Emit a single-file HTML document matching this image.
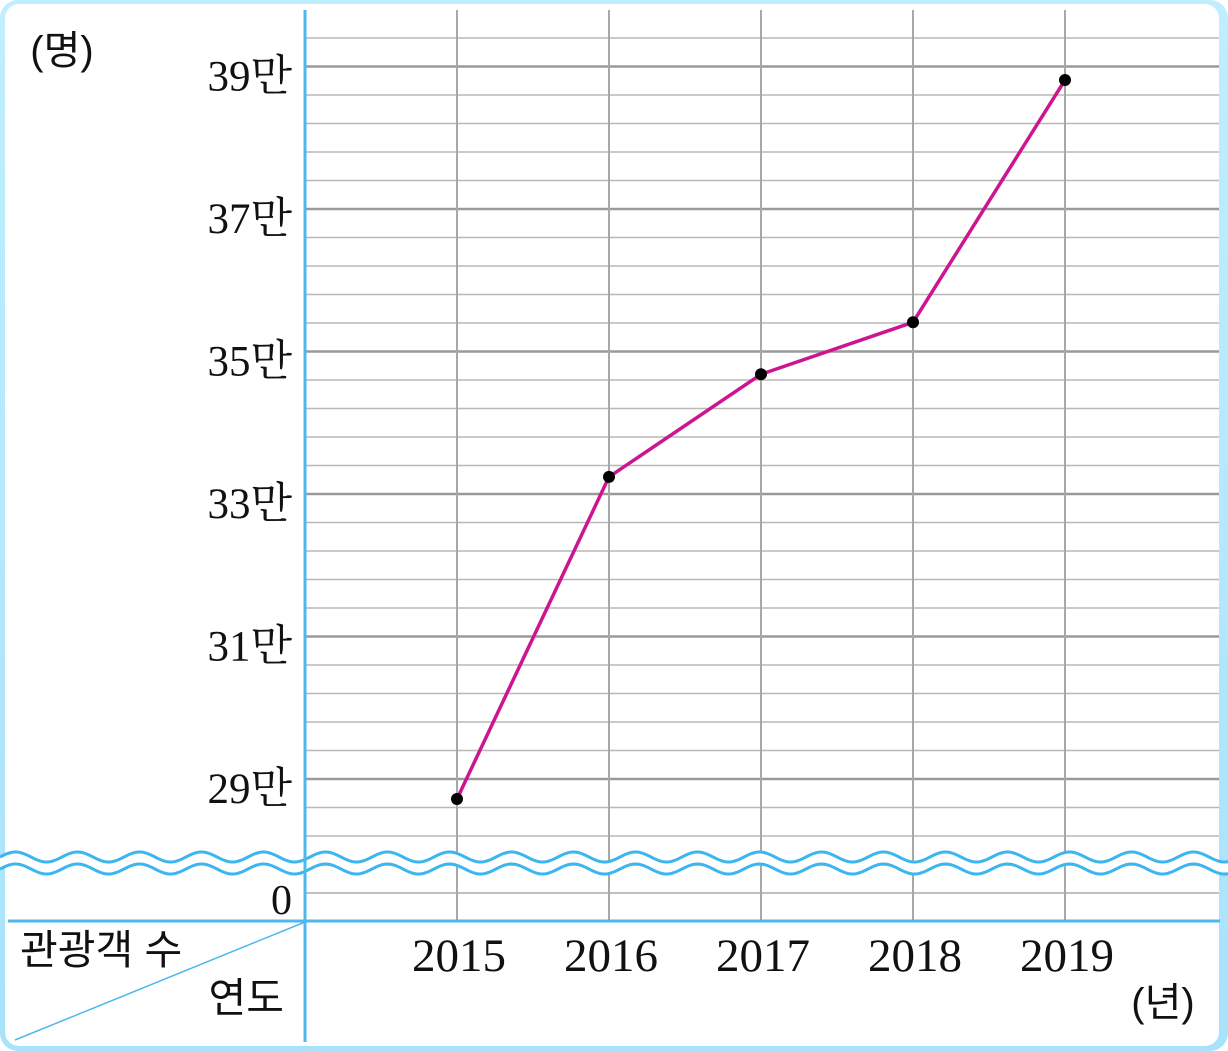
<!DOCTYPE html>
<html><head><meta charset="utf-8"><style>
html,body{margin:0;padding:0;background:#fff;}
svg{display:block;}
text{font-family:"Liberation Serif","Noto Serif CJK SC","Noto Sans CJK KR",serif;}
.k{font-family:"Liberation Sans","Noto Sans CJK KR",sans-serif;}
</style></head><body>
<svg id="chart" width="1228" height="1051" xmlns="http://www.w3.org/2000/svg">
<defs>
<linearGradient id="g" x1="0" y1="0" x2="0" y2="1"><stop offset="0" stop-color="#bfeeff"/><stop offset="1" stop-color="#a8e2fb"/></linearGradient>
</defs>
<rect x="0" y="0" width="1228" height="1051" rx="18" fill="url(#g)"/>
<rect x="5" y="4" width="1214" height="1042" rx="14" fill="#fff"/>
<g id="grid"></g>
<g id="wave"></g>
<g id="axes"></g>
<g id="series"></g>
<g id="labels"></g>
</svg>
<script>
const years = ['2015','2016','2017','2018','2019'];
const visitors = [28.72, 33.24, 34.68, 35.41, 38.81];
const yTicks = [29, 31, 33, 35, 37, 39];
const yTickLabels = ['29만','31만','33만','35만','37만','39만'];

const NS='http://www.w3.org/2000/svg';
const X0=305, XR=1219, Y29=779, PX_PER=71.25;
const xPos=i=>457+i*152;
const yPos=v=>Y29-(v-29)*PX_PER;
function mk(tag,attrs,parent){const e=document.createElementNS(NS,tag);for(const k in attrs)e.setAttribute(k,attrs[k]);parent.appendChild(e);return e;}
const grid=document.getElementById('grid'),axes=document.getElementById('axes'),series=document.getElementById('series'),labels=document.getElementById('labels'),wave=document.getElementById('wave');

for(let v=27.4; v<=39.5; v+=0.4){
  const vv=Math.round(v*10)/10;
  const major=yTicks.includes(vv);
  const l=mk('line',{x1:X0,x2:XR,y1:yPos(vv),y2:yPos(vv),stroke:major?'#9a9a9a':'#b8b8b8','stroke-width':major?2.5:1.5},grid);
  
  
}
[893,865].forEach(y=>{const l=mk('line',{x1:X0,x2:XR,y1:y,y2:y,stroke:'#b8b8b8','stroke-width':1.5},grid);
  
  });
years.forEach((y,i)=>{const l=mk('line',{x1:xPos(i),x2:xPos(i),y1:10,y2:921,stroke:'#a8a8a8','stroke-width':2},grid);
  
  });

function wpath(y0){let d='M0 '+y0;const P=62,A=5;for(let x=0;x<=1240;x+=2){d+=' L'+x+' '+(y0-A*Math.sin(x/P*2*Math.PI)).toFixed(2);}return d;}
const wfill=mk('path',{d:'',fill:'#fff'},wave);
let pts=[];for(let x=1240;x>=0;x-=2)pts.push('L'+x+' '+(869-5*Math.sin(x/62*2*Math.PI)).toFixed(2));
wfill.setAttribute('d',wpath(857)+' '+pts.join(' ')+' Z');


[857,869].forEach(y=>{const p=mk('path',{d:wpath(y),fill:'none',stroke:'#3cb6f0','stroke-width':3},wave);
  
  });

const ya=mk('line',{x1:X0,x2:X0,y1:10,y2:1042,stroke:'#4db8ee','stroke-width':3},axes);

const xa=mk('line',{x1:8,x2:1220,y1:921,y2:921,stroke:'#4db8ee','stroke-width':3},axes);

const dg=mk('line',{x1:X0,x2:15,y1:922,y2:1040,stroke:'#4db8ee','stroke-width':1.5},axes);


const line=mk('polyline',{points:visitors.map((v,i)=>xPos(i)+','+yPos(v)).join(' '),fill:'none',stroke:'#cc1590','stroke-width':3.5,'stroke-linejoin':'round'},series);

visitors.forEach((v,i)=>{const c=mk('circle',{cx:xPos(i),cy:yPos(v),r:6,fill:'#000'},series);
  
  });

function txt(s,x,y,size,anchor,name,cls){const t=mk('text',{x:x,y:y,'font-size':size,'text-anchor':anchor,fill:'#111'},labels);if(cls)t.setAttribute('class',cls);t.textContent=s;
  
  return t;}
yTicks.forEach((v,i)=>txt(yTickLabels[i],292,yPos(v)+24,43,'end','y-tick-label'));
txt('0',292,914,42,'end','y-tick-zero');
years.forEach((y,i)=>txt(y,xPos(i)+2,971,47,'middle','x-tick-label'));
txt('(명)',62,64,40,'middle','y-unit-label','k');
txt('(년)',1163,1016,40,'middle','x-unit-label','k');
txt('관광객 수',20,964,41,'start','row-header-visitors','k');
txt('연도',284,1012,41,'end','row-header-year','k');
</script>
</body></html>
